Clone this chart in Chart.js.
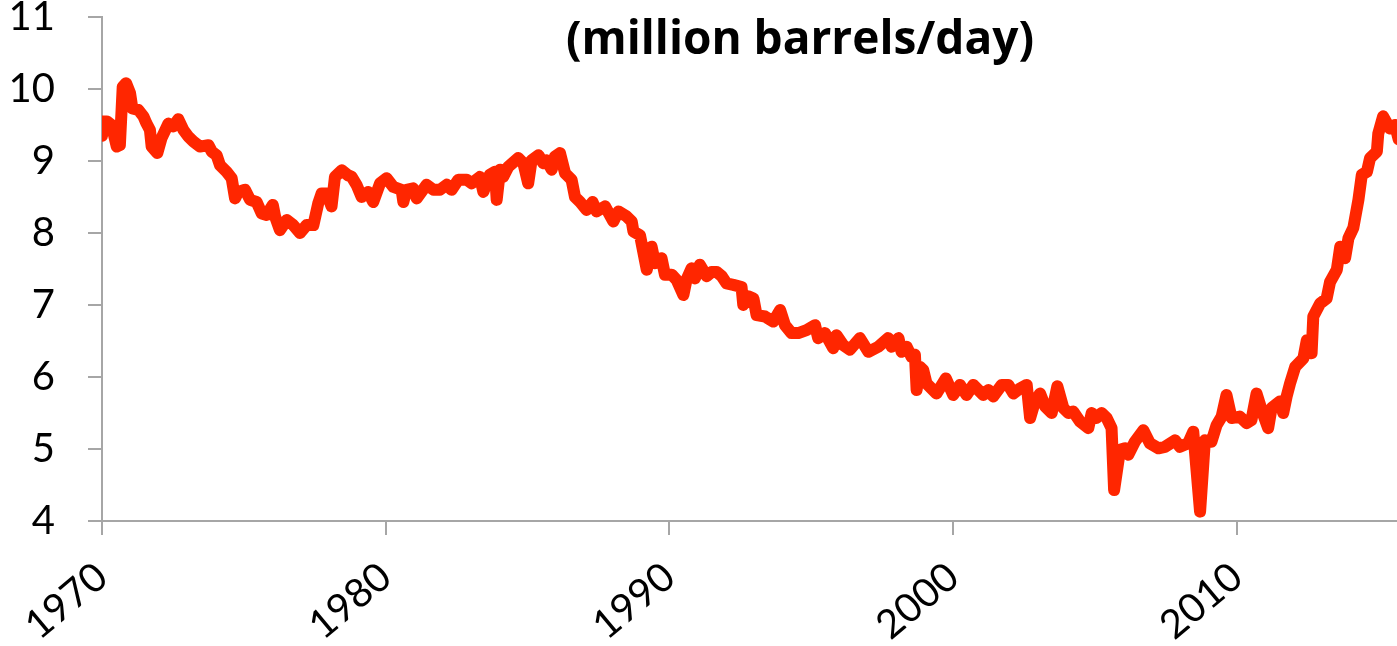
<!DOCTYPE html>
<html>
<head>
<meta charset="utf-8">
<script src="https://cdn.jsdelivr.net/npm/chart.js@4.4.1/dist/chart.umd.min.js"></script>
<style>
  body { margin: 0; background: #fff; }
  #wrap { width: 1397px; height: 646px; }
</style>
</head>
<body>
<div id="wrap"><canvas id="chart" width="1397" height="646"></canvas></div>
<script>
// decimal year of each reading
const years = [
  1970.00, 1970.05, 1970.17, 1970.34, 1970.52, 1970.63, 1970.73, 1970.85, 1970.99, 1971.07,
  1971.28, 1971.46, 1971.57, 1971.69, 1971.75, 1971.95, 1972.10, 1972.34, 1972.51, 1972.69,
  1972.87, 1973.04, 1973.22, 1973.45, 1973.75, 1973.87, 1974.04, 1974.16, 1974.39, 1974.57,
  1974.69, 1974.80, 1975.04, 1975.22, 1975.45, 1975.63, 1975.80, 1976.02, 1976.10, 1976.27,
  1976.51, 1976.74, 1976.98, 1977.21, 1977.45, 1977.62, 1977.74, 1977.92, 1978.09, 1978.21,
  1978.45, 1978.68, 1978.80, 1978.97, 1979.15, 1979.38, 1979.56, 1979.80, 1980.03, 1980.27,
  1980.56, 1980.62, 1980.73, 1980.97, 1981.09, 1981.44, 1981.68, 1981.91, 1982.15, 1982.32,
  1982.56, 1982.85, 1983.03, 1983.32, 1983.44, 1983.67, 1983.85, 1983.91, 1984.03, 1984.14,
  1984.32, 1984.67, 1984.85, 1985.02, 1985.14, 1985.38, 1985.55, 1985.67, 1985.85, 1985.96,
  1986.14, 1986.32, 1986.55, 1986.67, 1986.85, 1987.08, 1987.29, 1987.43, 1987.73, 1988.02,
  1988.20, 1988.49, 1988.67, 1988.73, 1988.96, 1989.20, 1989.37, 1989.49, 1989.72, 1989.84,
  1990.08, 1990.25, 1990.49, 1990.60, 1990.78, 1990.90, 1991.07, 1991.31, 1991.49, 1991.66,
  1991.84, 1992.01, 1992.25, 1992.54, 1992.60, 1992.78, 1992.96, 1993.07, 1993.37, 1993.66,
  1993.90, 1994.07, 1994.30, 1994.54, 1994.83, 1995.13, 1995.24, 1995.48, 1995.77, 1995.89,
  1996.13, 1996.36, 1996.71, 1997.01, 1997.36, 1997.71, 1997.83, 1998.07, 1998.18, 1998.36,
  1998.53, 1998.65, 1998.71, 1998.83, 1998.94, 1999.06, 1999.41, 1999.74, 2000.00, 2000.24,
  2000.47, 2000.71, 2001.06, 2001.24, 2001.41, 2001.71, 2001.94, 2002.12, 2002.35, 2002.59,
  2002.71, 2002.88, 2003.06, 2003.24, 2003.47, 2003.67, 2003.88, 2004.06, 2004.23, 2004.47,
  2004.76, 2004.88, 2005.05, 2005.23, 2005.41, 2005.58, 2005.67, 2005.88, 2006.05, 2006.17,
  2006.40, 2006.70, 2006.93, 2007.23, 2007.46, 2007.82, 2007.99, 2008.28, 2008.46, 2008.70,
  2008.87, 2009.10, 2009.28, 2009.46, 2009.63, 2009.81, 2010.10, 2010.34, 2010.51, 2010.69,
  2010.87, 2011.10, 2011.22, 2011.51, 2011.63, 2011.75, 2011.87, 2012.05, 2012.34, 2012.46,
  2012.63, 2012.69, 2012.93, 2013.16, 2013.28, 2013.52, 2013.64, 2013.81, 2013.93, 2014.10,
  2014.28, 2014.40, 2014.58, 2014.69, 2014.93, 2014.98, 2015.15, 2015.39, 2015.57, 2015.70
];

// crude output, million barrels/day
const production = [
  9.35, 9.55, 9.55, 9.50, 9.20, 9.22, 10.03, 10.08, 9.94, 9.73,
  9.71, 9.62, 9.52, 9.43, 9.20, 9.11, 9.32, 9.52, 9.48, 9.58,
  9.43, 9.34, 9.27, 9.20, 9.22, 9.13, 9.08, 8.94, 8.85, 8.76,
  8.48, 8.57, 8.60, 8.46, 8.43, 8.27, 8.25, 8.39, 8.23, 8.04,
  8.18, 8.11, 8.00, 8.11, 8.11, 8.41, 8.55, 8.55, 8.37, 8.78,
  8.87, 8.80, 8.78, 8.67, 8.50, 8.57, 8.43, 8.69, 8.76, 8.64,
  8.60, 8.43, 8.60, 8.62, 8.48, 8.67, 8.60, 8.60, 8.67, 8.60,
  8.74, 8.74, 8.69, 8.78, 8.57, 8.81, 8.85, 8.46, 8.88, 8.78,
  8.92, 9.04, 8.97, 8.69, 9.01, 9.08, 8.97, 9.01, 8.88, 9.06,
  9.11, 8.83, 8.74, 8.50, 8.43, 8.32, 8.43, 8.30, 8.37, 8.16,
  8.30, 8.23, 8.16, 8.02, 7.97, 7.49, 7.81, 7.58, 7.65, 7.42,
  7.42, 7.35, 7.14, 7.35, 7.51, 7.37, 7.56, 7.40, 7.46, 7.46,
  7.40, 7.30, 7.28, 7.25, 7.00, 7.12, 7.09, 6.86, 6.84, 6.77,
  6.93, 6.72, 6.61, 6.61, 6.65, 6.72, 6.54, 6.61, 6.40, 6.58,
  6.44, 6.38, 6.54, 6.35, 6.42, 6.54, 6.42, 6.54, 6.35, 6.42,
  6.28, 6.31, 5.82, 6.14, 6.10, 5.91, 5.77, 5.98, 5.75, 5.89,
  5.75, 5.89, 5.75, 5.82, 5.73, 5.89, 5.89, 5.77, 5.84, 5.89,
  5.43, 5.66, 5.77, 5.59, 5.50, 5.87, 5.57, 5.50, 5.52, 5.38,
  5.29, 5.50, 5.43, 5.50, 5.43, 5.29, 4.43, 4.99, 5.01, 4.92,
  5.10, 5.26, 5.08, 5.01, 5.03, 5.12, 5.03, 5.08, 5.24, 4.13,
  5.12, 5.10, 5.33, 5.45, 5.75, 5.43, 5.45, 5.36, 5.40, 5.77,
  5.54, 5.29, 5.57, 5.66, 5.50, 5.73, 5.91, 6.14, 6.26, 6.51,
  6.33, 6.84, 7.02, 7.09, 7.32, 7.49, 7.81, 7.65, 7.93, 8.07,
  8.46, 8.81, 8.85, 9.04, 9.13, 9.38, 9.62, 9.45, 9.50, 9.30
];

const yearTicks = [1970, 1980, 1990, 2000, 2010];
const titleText = "(million barrels/day)";

const axisGrey = "#a6a6a6";
const tickFont = { family: "Lato, 'Open Sans', sans-serif", size: 40 };

// draws the unit note inside the plot, right of centre
const unitNote = {
  id: "unitNote",
  afterDraw(chart) {
    const ctx = chart.ctx;
    ctx.save();
    ctx.font = "bold 46px 'Open Sans', Lato, sans-serif";
    ctx.fillStyle = "#000";
    ctx.textAlign = "center";
    ctx.textBaseline = "middle";
    ctx.fillText(titleText, 800, 41);
    ctx.restore();
  }
};

new Chart(document.getElementById("chart"), {
  type: "line",
  data: {
    datasets: [{
      data: years.map((y, i) => ({ x: y, y: production[i] })),
      borderColor: "#ff2600",
      borderWidth: 12,
      borderJoinStyle: "round",
      borderCapStyle: "round",
      pointRadius: 0,
      tension: 0,
      fill: false
    }]
  },
  options: {
    responsive: false,
    animation: false,
    devicePixelRatio: 1,
    layout: { padding: { top: 17, right: 0, bottom: 0, left: 0 } },
    plugins: { legend: { display: false }, tooltip: { enabled: false } },
    scales: {
      x: {
        type: "linear",
        min: 1970,
        max: 2015.64,
        afterBuildTicks: (scale) => { scale.ticks = yearTicks.map(v => ({ value: v })); },
        ticks: {
          autoSkip: false,
          minRotation: 40,
          maxRotation: 40,
          padding: 18,
          color: "#000",
          font: tickFont,
          callback: (v) => String(v)
        },
        grid: { drawOnChartArea: false, drawTicks: true, tickLength: 14, color: axisGrey, lineWidth: 2 },
        border: { color: axisGrey, width: 2 },
        afterFit: (scale) => {
          scale.height = 125;
          scale.paddingLeft = 0; scale.paddingRight = 0;
        }
      },
      y: {
        min: 4,
        max: 11,
        ticks: { stepSize: 1, padding: 33, color: "#000", font: tickFont },
        grid: { drawOnChartArea: false, drawTicks: true, tickLength: 14, color: axisGrey, lineWidth: 2 },
        border: { color: axisGrey, width: 2 },
        afterFit: (scale) => {
          scale.width = 102;
          scale.paddingTop = 0; scale.paddingBottom = 0;
        }
      }
    }
  },
  plugins: [unitNote]
});
</script>
</body>
</html>
